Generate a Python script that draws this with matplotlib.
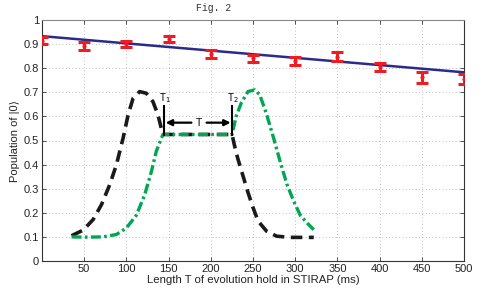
import matplotlib
matplotlib.use("Agg")
import matplotlib.pyplot as plt
import numpy as np

plt.rcParams['font.family'] = ['Liberation Sans', 'DejaVu Sans']

# Experimental points
hold_x = [0, 50, 100, 150, 200, 250, 300, 350, 400, 450, 500]
pop_y = [0.914, 0.892, 0.900, 0.922, 0.859, 0.841, 0.830, 0.848, 0.806, 0.763, 0.754]
pop_err = [0.014, 0.016, 0.014, 0.012, 0.016, 0.014, 0.016, 0.018, 0.016, 0.023, 0.020]

# Fit line endpoints
fit_x = [0, 500]
fit_y = [0.933, 0.783]

# Inset pulse sketch (black dashed)
black_x = [35, 48.8, 60.6, 70.5, 80.3, 88.2, 96.1, 102, 107.9, 115.7, 123.6, 131.5,
           137.4, 141.3, 143.3, 225.2, 228, 232, 238, 244, 250, 256, 266, 278, 294, 322]
black_y = [0.105, 0.128, 0.172, 0.234, 0.317, 0.40, 0.51, 0.606, 0.675, 0.703, 0.696, 0.661,
           0.606, 0.551, 0.525, 0.525, 0.48, 0.425, 0.355, 0.285, 0.222, 0.166, 0.124, 0.103, 0.098, 0.098]

# Inset pulse sketch (green dash-dot)
green_x = [35, 52.8, 72.4, 88.2, 100, 111.8, 121.7, 129.5, 135.4, 143.3, 225.2, 230, 236,
           244, 252, 258, 266, 274, 282, 290, 298, 306, 314, 322]
green_y = [0.1, 0.099, 0.1, 0.11, 0.137, 0.19, 0.275, 0.37, 0.455, 0.525, 0.525, 0.6, 0.655,
           0.703, 0.71, 0.69, 0.61, 0.515, 0.415, 0.32, 0.25, 0.19, 0.158, 0.13]

# Annotation positions
t1_x = 144.5
t2_x = 225.5
marker_bottom = 0.523
marker_top = 0.644
arrow_y = 0.574

xticks = [50, 100, 150, 200, 250, 300, 350, 400, 450, 500]
yticks = [0, 0.1, 0.2, 0.3, 0.4, 0.5, 0.6, 0.7, 0.8, 0.9, 1]
ytick_labels = ['0', '0.1', '0.2', '0.3', '0.4', '0.5', '0.6', '0.7', '0.8', '0.9', '1']

fig = plt.figure(figsize=(4.85, 2.91), dpi=100)
ax = fig.add_axes([42/485, 1 - 261/291, (464 - 42)/485, (261 - 20)/291])

ax.plot(black_x, black_y, color='#1a1a1a', lw=2.6, ls=(0, (3.2, 1.8)), zorder=3)
ax.plot(green_x, green_y, color='#00a651', lw=2.4, ls=(0, (3.0, 1.0, 0.8, 1.0)), zorder=4)

ax.plot(fit_x, fit_y, color='#2b2b8c', lw=1.8, zorder=5)
ax.errorbar(hold_x, pop_y, yerr=pop_err, fmt='.', color='#ee1c25', ms=4,
            elinewidth=2.2, capsize=4, capthick=2.2, zorder=6)

# T1 / T2 markers and arrows
ax.plot([t1_x, t1_x], [marker_bottom, marker_top], color='black', lw=1.5, zorder=7)
ax.plot([t2_x, t2_x], [marker_bottom, marker_top], color='black', lw=1.5, zorder=7)
ax.annotate('', xy=(t1_x + 2, arrow_y), xytext=(177, arrow_y),
            arrowprops=dict(arrowstyle='-|>', color='black', lw=1.6,
                            mutation_scale=9, shrinkA=0, shrinkB=0), zorder=7)
ax.annotate('', xy=(t2_x - 2, arrow_y), xytext=(195, arrow_y),
            arrowprops=dict(arrowstyle='-|>', color='black', lw=1.6,
                            mutation_scale=9, shrinkA=0, shrinkB=0), zorder=7)
ax.text(186, arrow_y, 'T', fontsize=7.5, ha='center', va='center', zorder=7)
ax.text(t1_x + 1, 0.674, 'T$_1$', fontsize=7, ha='center', va='center', zorder=7)
ax.text(t2_x + 1, 0.674, 'T$_2$', fontsize=7, ha='center', va='center', zorder=7)

ax.set_xlim(0, 500)
ax.set_ylim(0, 1)
ax.set_xticks(xticks)
ax.set_yticks(yticks)
ax.set_yticklabels(ytick_labels)
ax.tick_params(direction='in', top=True, right=True, labelsize=8,
               length=3, width=0.6, colors='#333333', pad=2)
ax.tick_params(axis='both', labelcolor='#222222')
ax.grid(True, ls=(0, (1, 3)), color='#aaaaaa', lw=0.6)
for s in ['left', 'bottom', 'right']:
    ax.spines[s].set_color('#333333')
    ax.spines[s].set_linewidth(0.8)
ax.spines['top'].set_color('#888888')
ax.spines['top'].set_linewidth(0.8)

ax.set_xlabel('Length T of evolution hold in STIRAP (ms)', fontsize=8.2, labelpad=1, color='#222222')
ax.set_ylabel('Population of |0⟩', fontsize=8, labelpad=3, color='#222222')

fig.text(214/485, 1 - 8/291, 'Fig. 2', fontsize=7, family='Liberation Mono',
         ha='center', va='center', color='#333333')

fig.savefig('out.png', dpi=100)
